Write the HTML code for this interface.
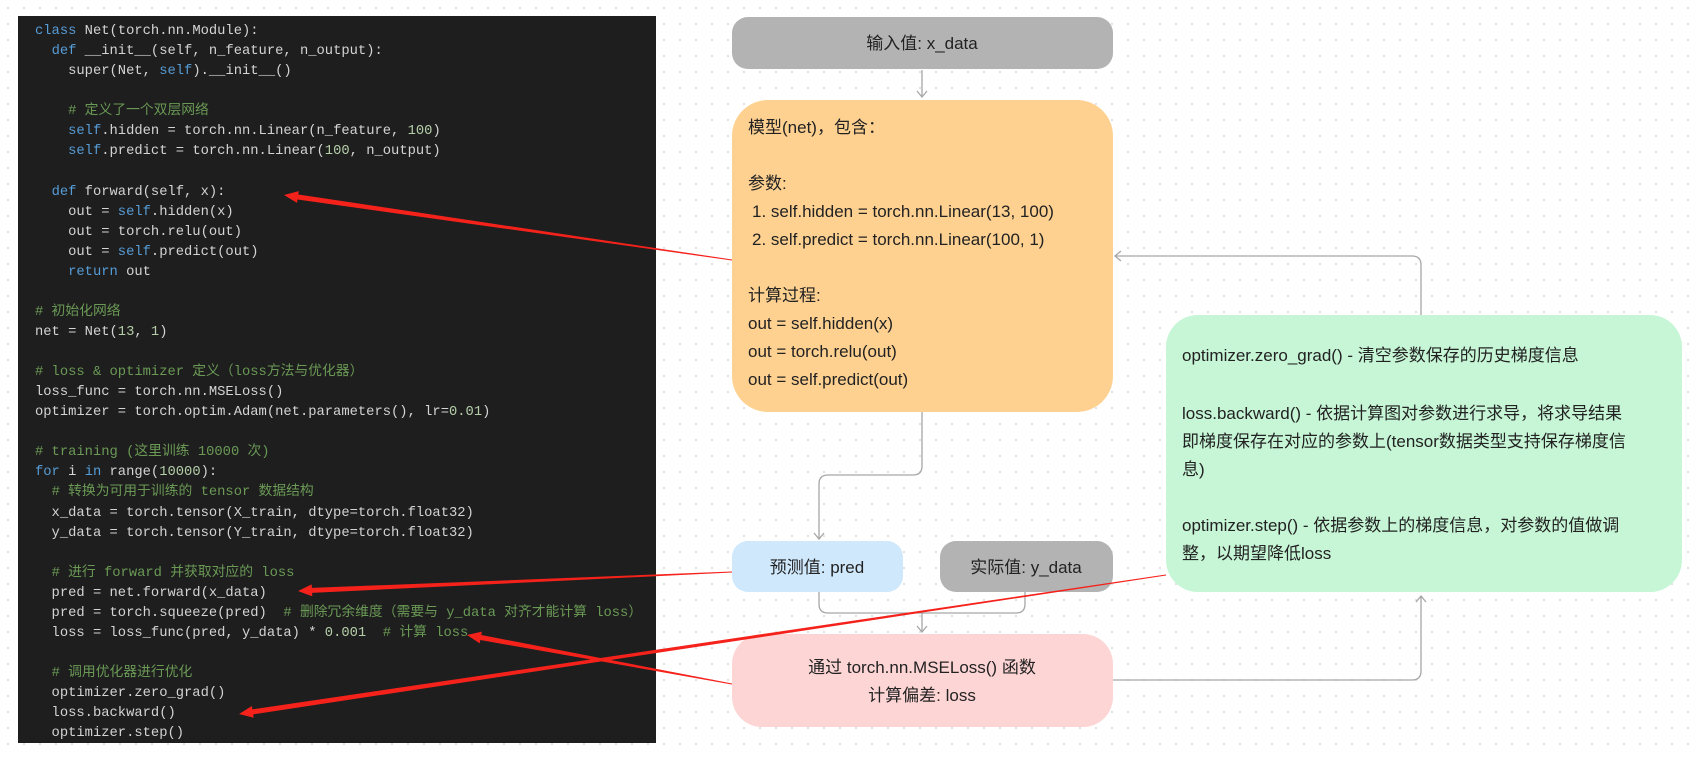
<!DOCTYPE html>
<html><head><meta charset="utf-8"><style>
html,body{margin:0;padding:0;}
body{width:1701px;height:757px;position:relative;overflow:hidden;background:#fff;
background-image:radial-gradient(circle,#dcdcdc 0.8px,transparent 1.2px);background-size:16px 16px;}
#code{position:absolute;left:18px;top:16px;width:638px;height:727px;background:#1e1e1e;}
#code pre{margin:0;position:absolute;left:17px;top:6px;font-family:"Liberation Mono","Noto Sans CJK SC",monospace;font-size:13.8px;line-height:20.06px;color:#d4d4d4;}
.k{color:#569cd6}.c{color:#6a9955}.n{color:#b5cea8}
svg{position:absolute;left:0;top:0;}
.t{font-family:"Liberation Sans","Noto Sans CJK SC",sans-serif;font-size:17px;fill:#222;}
</style></head><body>
<div id="code"><pre><span class="k">class</span> Net(torch.nn.Module):
  <span class="k">def</span> __init__(self, n_feature, n_output):
    super(Net, <span class="k">self</span>).__init__()

    <span class="c"># 定义了一个双层网络</span>
    <span class="k">self</span>.hidden = torch.nn.Linear(n_feature, <span class="n">100</span>)
    <span class="k">self</span>.predict = torch.nn.Linear(<span class="n">100</span>, n_output)

  <span class="k">def</span> forward(self, x):
    out = <span class="k">self</span>.hidden(x)
    out = torch.relu(out)
    out = <span class="k">self</span>.predict(out)
    <span class="k">return</span> out

<span class="c"># 初始化网络</span>
net = Net(<span class="n">13</span>, <span class="n">1</span>)

<span class="c"># loss &amp; optimizer 定义（loss方法与优化器）</span>
loss_func = torch.nn.MSELoss()
optimizer = torch.optim.Adam(net.parameters(), lr=<span class="n">0.01</span>)

<span class="c"># training (这里训练 10000 次)</span>
<span class="k">for</span> i <span class="k">in</span> range(<span class="n">10000</span>):
  <span class="c"># 转换为可用于训练的 tensor 数据结构</span>
  x_data = torch.tensor(X_train, dtype=torch.float32)
  y_data = torch.tensor(Y_train, dtype=torch.float32)

  <span class="c"># 进行 forward 并获取对应的 loss</span>
  pred = net.forward(x_data)
  pred = torch.squeeze(pred)  <span class="c"># 删除冗余维度（需要与 y_data 对齐才能计算 loss）</span>
  loss = loss_func(pred, y_data) * <span class="n">0.001</span>  <span class="c"># 计算 loss</span>

  <span class="c"># 调用优化器进行优化</span>
  optimizer.zero_grad()
  loss.backward()
  optimizer.step()</pre></div>
<svg width="1701" height="757" viewBox="0 0 1701 757">
<g fill="none" stroke="#a6a6a6" stroke-width="1.3">
<path d="M922 70 V97"/><path d="M917 91 L922 97 L927 91"/>
<path d="M922 412 V466 Q922 475 913 475 H828 Q819 475 819 484 V539"/><path d="M814 533 L819 539 L824 533"/>
<path d="M819 592 V604 Q819 613 828 613 H1016 Q1025 613 1025 604 V592"/>
<path d="M922 613 V632"/><path d="M917 626 L922 632 L927 626"/>
<path d="M1113 680 H1412 Q1421 680 1421 671 V596"/><path d="M1416 602 L1421 596 L1426 602"/>
<path d="M1421 315 V265 Q1421 256 1412 256 H1115"/><path d="M1121 251 L1115 256 L1121 261"/>
</g>
<rect x="732" y="17" width="381" height="52" rx="16" fill="#b3b3b3"/>
<text class="t" x="922" y="49" text-anchor="middle">输入值: x_data</text>
<rect x="732" y="100" width="381" height="312" rx="36" fill="#fed191"/>
<text class="t" x="748" y="133">模型(net)，包含：</text>
<text class="t" x="748" y="189">参数:</text>
<text class="t" x="752" y="217"> 1. self.hidden = torch.nn.Linear(13, 100)</text>
<text class="t" x="752" y="245"> 2. self.predict = torch.nn.Linear(100, 1)</text>
<text class="t" x="748" y="301">计算过程:</text>
<text class="t" x="748" y="329">out = self.hidden(x)</text>
<text class="t" x="748" y="357">out = torch.relu(out)</text>
<text class="t" x="748" y="385">out = self.predict(out)</text>
<rect x="732" y="541" width="171" height="51" rx="16" fill="#cfe8fc"/>
<text class="t" x="817" y="573" text-anchor="middle">预测值: pred</text>
<rect x="940" y="541" width="173" height="51" rx="16" fill="#b3b3b3"/>
<text class="t" x="1026" y="573" text-anchor="middle">实际值: y_data</text>
<rect x="732" y="634" width="381" height="93" rx="30" fill="#fed5d5"/>
<text class="t" x="922" y="673" text-anchor="middle">通过 torch.nn.MSELoss() 函数</text>
<text class="t" x="922" y="701" text-anchor="middle">计算偏差: loss</text>
<rect x="1166" y="315" width="516" height="277" rx="32" fill="#c6f6d6"/>
<text class="t" x="1182" y="361">optimizer.zero_grad() - 清空参数保存的历史梯度信息</text>
<text class="t" x="1182" y="419">loss.backward() - 依据计算图对参数进行求导，将求导结果</text>
<text class="t" x="1182" y="447">即梯度保存在对应的参数上(tensor数据类型支持保存梯度信</text>
<text class="t" x="1182" y="475">息)</text>
<text class="t" x="1182" y="531">optimizer.step() - 依据参数上的梯度信息，对参数的值做调</text>
<text class="t" x="1182" y="559">整，以期望降低loss</text>
<g fill="#f5221b">
<polygon points="732.07,259.5 298.3,194.5 298.8,191.1 284,195 297,202.9 297.5,199.5 731.93,260.5"/>
<polygon points="732,571.5 311.9,587.9 311.7,584.4 298,591 312.3,596.4 312.1,592.9 732,572.5"/>
<polygon points="732.1,683.5 481.3,635 481.9,631.6 467,635 479.7,643.4 480.3,640 731.9,684.5"/>
<polygon points="1165.9,574.5 252.4,709.4 251.9,706 239,714 253.7,717.8 253.2,714.4 1166.1,575.5"/>
</g>
</svg>
</body></html>
